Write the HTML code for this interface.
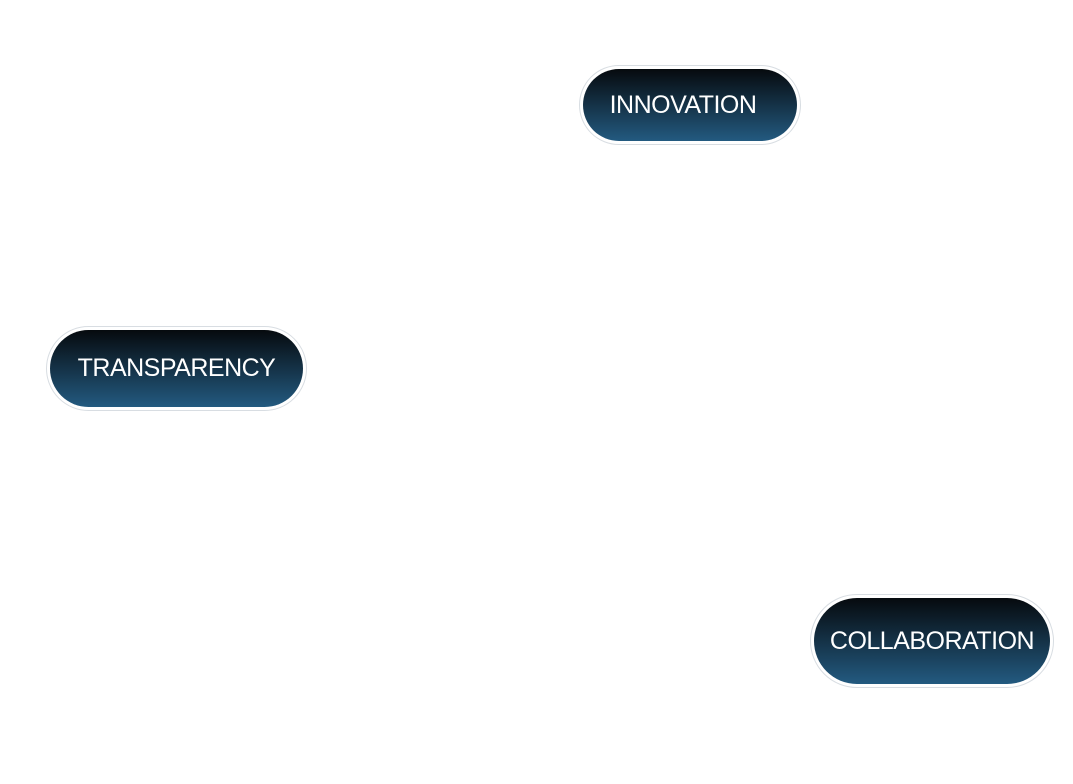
<!DOCTYPE html>
<html><head><style>
body{margin:0;width:1073px;height:784px;background:#fff;position:relative;overflow:hidden;font-family:"Liberation Sans",sans-serif}
.o{position:absolute;border:1px solid #d8dde2;border-radius:60px;box-sizing:border-box}
.i{position:absolute;left:3px;top:3px;right:3px;bottom:3px;border-radius:60px;background:linear-gradient(#060a0e,#235a80);color:#fff;font-size:25px;letter-spacing:-0.5px;display:flex;align-items:center;justify-content:center;font-weight:300}
</style></head><body>
<div class="o" style="left:579px;top:65px;width:222px;height:80px"><div class="i" style="padding-right:14px">INNOVATION</div></div>
<div class="o" style="left:46px;top:326px;width:261px;height:85px"><div class="i">TRANSPARENCY</div></div>
<div class="o" style="left:810px;top:594px;width:244px;height:94px"><div class="i">COLLABORATION</div></div>
</body></html>
